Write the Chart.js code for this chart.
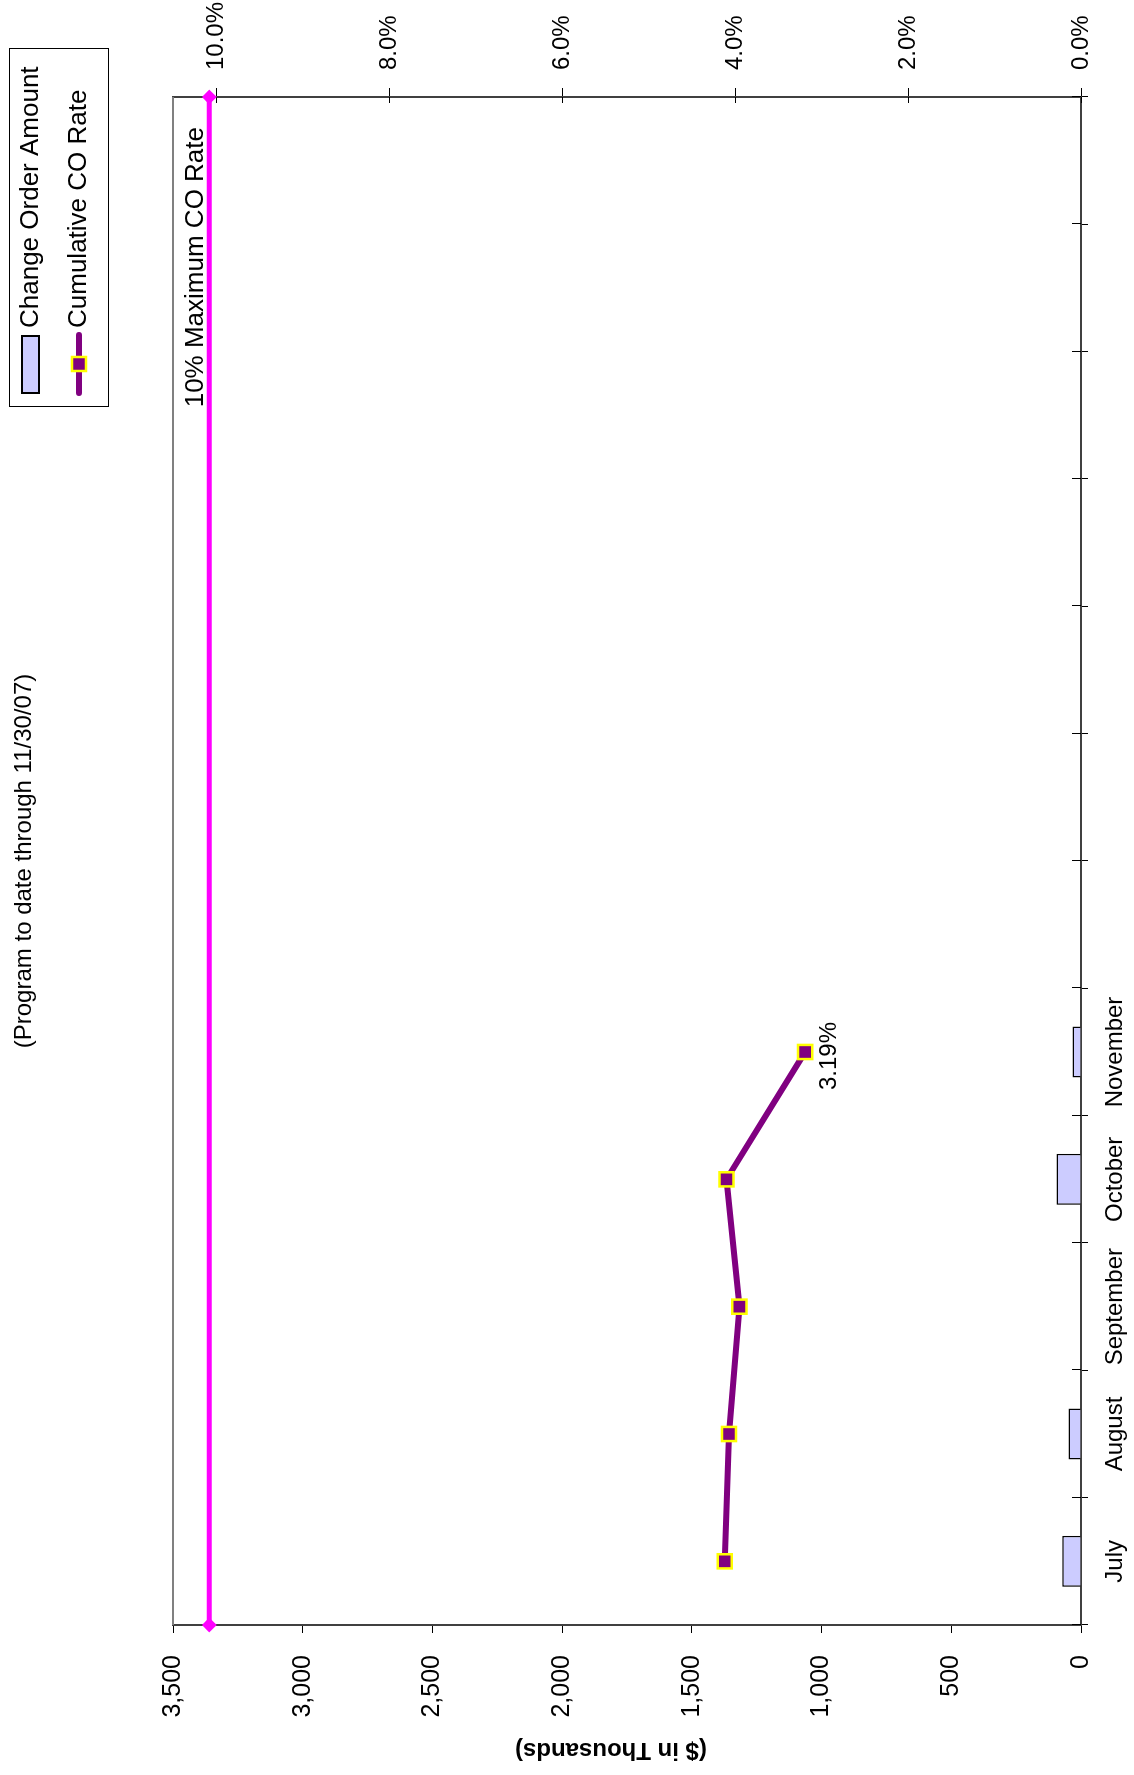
<!DOCTYPE html>
<html>
<head>
<meta charset="utf-8">
<title>Change Orders</title>
<script src="https://cdn.jsdelivr.net/npm/chart.js@4.4.0/dist/chart.umd.min.js"></script>
<style>
  html, body { margin: 0; padding: 0; background: #fff; overflow: hidden; }
  body { width: 1134px; height: 1775px; position: relative; }
  /* the chart is laid out landscape and turned a quarter turn, like the printed page */
  #page { position: absolute; left: 0; top: 0; width: 1775px; height: 1134px;
          transform-origin: 0 0; transform: translate(0, 1775px) rotate(-90deg); }
</style>
</head>
<body>
<div id="page"><canvas id="coChart" width="1775" height="1134"></canvas></div>
<script>
// Fiscal-year months; only July..November have figures so far.
var months = ['July', 'August', 'September', 'October', 'November', '', '', '', '', '', '', ''];

// Change order amount per month, $ in thousands
var coAmount = [72, 48, 0, 94, 33];

// Cumulative change order rate, percent
var coRate = [4.12, 4.07, 3.95, 4.10, 3.19];

// 10% ceiling, $ in thousands, drawn from edge to edge of the plot
var maxLine = [3360, 3360];

var amountTicks = [0, 500, 1000, 1500, 2000, 2500, 3000, 3500];
var rateTicks = [0, 2, 4, 6, 8, 10];

var subtitle = '(Program to date through 11/30/07)';
var amountTitle = '($ in Thousands)';
var maxLineLabel = '10% Maximum CO Rate';

var FONT = '"Liberation Sans", Arial, sans-serif';
Chart.defaults.font.family = FONT;
Chart.defaults.color = '#000';

// Extra bits Excel draws that Chart.js doesn't: crossing ticks, top border,
// captions and the boxed legend.
var decorations = {
  id: 'decorations',
  beforeDatasetsDraw: function(chart) {
    var ctx = chart.ctx, a = chart.chartArea;
    var x = chart.scales.x, y1 = chart.scales.y1;
    ctx.save();
    ctx.strokeStyle = '#808080';
    ctx.lineWidth = 2;
    ctx.beginPath();
    ctx.moveTo(a.left, a.top);
    ctx.lineTo(a.right, a.top);
    ctx.stroke();

    ctx.strokeStyle = '#000';
    ctx.lineWidth = 1;
    ctx.beginPath();
    for (var i = 0; i <= months.length; i++) {
      var px = Math.round(x.getPixelForValue(i - 0.5)) + 0.5;
      ctx.moveTo(px, a.bottom - 9);
      ctx.lineTo(px, a.bottom);
    }
    rateTicks.forEach(function(v) {
      var py = Math.round(y1.getPixelForValue(v)) + 0.5;
      ctx.moveTo(a.right - 6, py);
      ctx.lineTo(a.right, py);
    });
    ctx.stroke();
    ctx.restore();
  },
  afterDraw: function(chart) {
    var ctx = chart.ctx, a = chart.chartArea;
    var ds = chart.data.datasets;
    ctx.save();
    ctx.fillStyle = '#000';

    // subtitle (main title sits off the top of the page)
    ctx.font = '24px ' + FONT;
    ctx.textAlign = 'center';
    ctx.textBaseline = 'alphabetic';
    ctx.fillText(subtitle, (a.left + a.right) / 2, 31);

    // left axis title, a little above the middle of the axis
    ctx.save();
    ctx.translate(25, (a.top + a.bottom) / 2 - 16);
    ctx.rotate(-Math.PI / 2);
    ctx.font = 'bold 24px ' + FONT;
    ctx.textBaseline = 'middle';
    ctx.fillText(amountTitle, 0, 0);
    ctx.restore();

    // caption over the ceiling line
    var yMax = chart.scales.y.getPixelForValue(maxLine[0]);
    ctx.font = '26px ' + FONT;
    ctx.textAlign = 'right';
    ctx.fillText(maxLineLabel, a.right - 30, yMax - 6);

    // value label under the latest rate point
    var last = coRate.length - 1;
    var pt = chart.getDatasetMeta(1).data[last];
    ctx.font = '24px ' + FONT;
    ctx.textAlign = 'center';
    ctx.textBaseline = 'middle';
    ctx.fillText(coRate[last].toFixed(2) + '%', pt.x - 4, pt.y + 24);

    // legend box
    var lx = 1368, ly = 9, lw = 358, lh = 99, r1 = 30.5, r2 = 79;
    ctx.fillStyle = '#fff';
    ctx.fillRect(lx, ly, lw, lh);
    ctx.strokeStyle = '#000';
    ctx.lineWidth = 1;
    ctx.strokeRect(lx + 0.5, ly + 0.5, lw, lh);

    ctx.fillStyle = ds[0].backgroundColor;
    ctx.fillRect(1382, r1 - 8.5, 57, 17);
    ctx.strokeStyle = ds[0].borderColor;
    ctx.lineWidth = 2;
    ctx.strokeRect(1382, r1 - 8.5, 57, 17);

    ctx.strokeStyle = ds[1].borderColor;
    ctx.lineWidth = 6;
    ctx.lineCap = 'round';
    ctx.beginPath();
    ctx.moveTo(1382, r2);
    ctx.lineTo(1440, r2);
    ctx.stroke();
    ctx.fillStyle = ds[1].pointBackgroundColor;
    ctx.fillRect(1404, r2 - 7, 14, 14);
    ctx.strokeStyle = ds[1].pointBorderColor;
    ctx.lineWidth = 2.5;
    ctx.strokeRect(1404, r2 - 7, 14, 14);

    ctx.fillStyle = '#000';
    ctx.font = '26px ' + FONT;
    ctx.textAlign = 'left';
    ctx.textBaseline = 'middle';
    ctx.fillText(ds[0].label, 1447, r1);
    ctx.fillText(ds[1].label, 1447, r2);
    ctx.restore();
  }
};

new Chart(document.getElementById('coChart'), {
  type: 'bar',
  data: {
    labels: months,
    datasets: [{
      type: 'bar',
      label: 'Change Order Amount',
      data: coAmount,
      xAxisID: 'x',
      yAxisID: 'y',
      backgroundColor: '#CCCCFF',
      borderColor: '#000',
      borderWidth: 1.5,
      grouped: false,
      barPercentage: 0.4,
      categoryPercentage: 1,
      order: 3
    }, {
      type: 'line',
      label: 'Cumulative CO Rate',
      data: coRate,
      xAxisID: 'x',
      yAxisID: 'y1',
      borderColor: '#800080',
      borderWidth: 6,
      borderCapStyle: 'round',
      borderJoinStyle: 'round',
      pointStyle: 'rect',
      pointRadius: 10,
      pointBackgroundColor: '#800080',
      pointBorderColor: '#FFFF00',
      pointBorderWidth: 2.5,
      tension: 0,
      order: 2
    }, {
      type: 'line',
      label: maxLineLabel,
      data: maxLine,
      xAxisID: 'x2',
      yAxisID: 'y',
      borderColor: '#FF00FF',
      borderWidth: 5,
      pointStyle: 'rectRot',
      pointRadius: 6,
      pointBackgroundColor: '#FF00FF',
      pointBorderColor: '#FF00FF',
      pointBorderWidth: 2,
      tension: 0,
      clip: false,
      order: 1
    }]
  },
  options: {
    responsive: false,
    animation: false,
    events: [],
    layout: { padding: { top: 173, left: 0, right: 0, bottom: 0 } },
    plugins: {
      legend: { display: false },
      title: { display: false },
      tooltip: { enabled: false }
    },
    scales: {
      x: {
        type: 'category',
        offset: true,
        grid: { offset: true, drawOnChartArea: false, tickLength: 7, color: '#000', lineWidth: 1 },
        border: { color: '#404040', width: 2 },
        ticks: { font: { size: 24 }, autoSkip: false, maxRotation: 0, padding: 13 },
        afterFit: function(s) { s.height = 53; }
      },
      x2: {
        type: 'category',
        labels: ['start', 'end'],
        offset: false,
        display: false
      },
      y: {
        position: 'left',
        min: 0,
        max: 3500,
        afterBuildTicks: function(s) { s.ticks = amountTicks.map(function(v) { return { value: v }; }); },
        ticks: {
          font: { size: 25 },
          padding: 22,
          callback: function(v) { return v.toLocaleString('en-US'); }
        },
        grid: { drawOnChartArea: false, tickLength: 8, color: '#000', lineWidth: 1 },
        border: { color: '#404040', width: 2 },
        afterFit: function(s) { s.width = 150; }
      },
      y1: {
        position: 'right',
        min: 0,
        max: 10.5,
        afterBuildTicks: function(s) { s.ticks = rateTicks.map(function(v) { return { value: v }; }); },
        ticks: {
          font: { size: 24 },
          padding: 18,
          callback: function(v) { return v.toFixed(1) + '%'; }
        },
        grid: { drawOnChartArea: false, tickLength: 9, color: '#000', lineWidth: 1 },
        border: { color: '#404040', width: 2 },
        afterFit: function(s) { s.width = 97; }
      }
    }
  },
  plugins: [decorations]
});
</script>
</body>
</html>
